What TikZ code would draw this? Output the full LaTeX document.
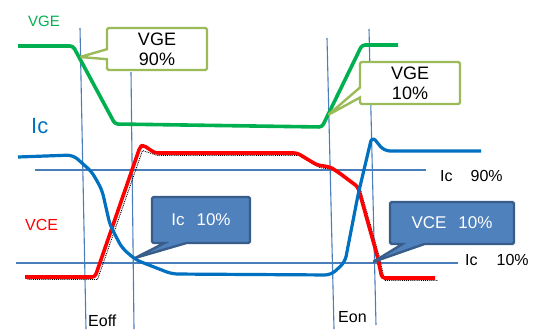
\documentclass[tikz,border=0pt]{standalone}
\usepackage{fontspec}
\setmainfont{Liberation Sans}
\usetikzlibrary{shapes.callouts}

\definecolor{vgegreen}{HTML}{00B050}
\definecolor{icblue}{HTML}{0070C0}
\definecolor{gridblue}{HTML}{4A7EBB}
\definecolor{boxgreen}{HTML}{9BBB59}
\definecolor{boxfill}{HTML}{4F81BD}
\definecolor{boxedge}{HTML}{385D8A}

\begin{document}
\begin{tikzpicture}[
  x=1pt, y=-1pt,
  every node/.style={font=\fontsize{16}{18}\selectfont, inner sep=0pt},
  guide/.style={gridblue, line width=1.1pt},
  wave/.style={line width=3.6pt, rounded corners=3pt, line join=round},
  shade/.style={black, densely dotted, line width=0.9pt, shift={(2.5,2.5)}},
  vgebox/.style={rectangle callout, draw=boxgreen, fill=white, line width=2.4pt,
                 rounded corners=1.5pt,
                 minimum width=100pt, minimum height=42pt, align=center,
                 callout pointer width=10pt,
                 font=\fontsize{18}{20}\selectfont},
  icbox/.style={rectangle callout, draw=boxedge, fill=boxfill, text=white,
                line width=2.4pt, rounded corners=1.5pt,
                minimum height=46pt, align=center,
                callout pointer width=22pt,
                font=\fontsize{17}{20}\selectfont},
]
  \useasboundingbox (0,0) rectangle (537,329);

  % Guide lines
  \draw[guide] (80,28) -- (86,329);
  \draw[guide] (131,72) -- (134,329);
  \draw[guide] (327,38) -- (334,329);
  \draw[guide] (369,29) -- (376,325);
  \draw[guide] (35,170) -- (426,170);
  \draw[guide] (16,263) -- (458,263);

  % VGE
  \draw[wave, vgegreen] (18,46) -- (73,46) -- (115,124) -- (322,127)
    -- (362,45) -- (398,45);

  % VCE with its shadow
  \draw[shade] (25,277) -- (95,277) -- (140,148) -- (155,153) -- (297,153)
    -- (317,165) -- (330,167) -- (358,187) -- (377,255) -- (382,278) -- (435,278);
  \draw[wave, red] (25,277) -- (95,277) -- (140,147) -- (143,145) -- (155,153)
    -- (297,153) -- (317,165) -- (330,167) -- (338,172) -- (358,187)
    -- (377,255) -- (382,278) -- (435,278);

  % Ic
  \draw[wave, icblue, line width=3.2pt, rounded corners=6pt]
    (18,157) -- (73,155) -- (92,172) -- (102,190) -- (110,225) -- (122,248)
    -- (136,260) -- (172,274) -- (331,275) -- (345,262) -- (358,195)
    -- (372,136) -- (384,151) -- (481,151);

  % Pointer tips
  \coordinate (t90) at (80,57);
  \coordinate (t10) at (328,115);
  \coordinate (tic) at (135,258);
  \coordinate (tce) at (373,262);

  % Callouts
  \node[vgebox, callout absolute pointer={(t90)}] (vge90) at (157,49) {VGE\\90\%};
  \node[vgebox, callout absolute pointer={(t10)}] (vge10) at (410,83) {VGE\\10\%};
  \node[icbox, minimum width=98pt, callout absolute pointer={(tic)}] (ic10)
    at (201,220) {Ic\hspace{12pt}10\%};
  \node[icbox, minimum width=124pt, minimum height=42pt,
        callout absolute pointer={(tce)}] (vce10)
    at (452,223) {VCE\hspace{12pt}10\%};

  % Labels
  \node[vgegreen, font=\fontsize{15}{17}\selectfont, anchor=base west]
    (lvge) at (28,27) {VGE};
  \node[icblue, font=\fontsize{22}{24}\selectfont, anchor=base west]
    (lic) at (31,133) {Ic};
  \node[red, anchor=base west] (lvce) at (25,230) {VCE};
  \node[anchor=base west] (l90) at (440,181) {Ic\hspace{18pt}90\%};
  \node[anchor=base west] (l10) at (465,265) {Ic\hspace{19pt}10\%};
  \node[anchor=base west] (leoff) at (88,326) {Eoff};
  \node[anchor=base west] (leon) at (338,322) {Eon};
\end{tikzpicture}
\end{document}
